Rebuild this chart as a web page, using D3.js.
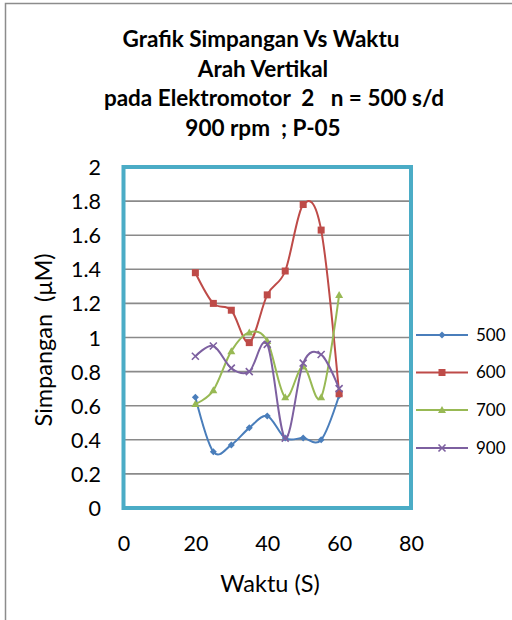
<!DOCTYPE html>
<html><head><meta charset="utf-8">
<script src="https://cdn.jsdelivr.net/npm/d3@7"></script>
<style>
html,body{margin:0;padding:0;background:#fff;}
svg{display:block;font-family:Lato,"Open Sans",sans-serif;}
text{white-space:pre;}
</style></head>
<body>
<svg id="c" width="512" height="620"></svg>
<script>
const xValues = [20, 25, 30, 35, 40, 45, 50, 55, 60];
const seriesNames = ["500", "600", "700", "900"];
const s500 = [0.65, 0.33, 0.37, 0.47, 0.54, 0.41, 0.41, 0.40, 0.66];
const s600 = [1.38, 1.20, 1.16, 0.97, 1.25, 1.39, 1.78, 1.63, 0.67];
const s700 = [0.61, 0.69, 0.92, 1.03, 0.98, 0.65, 0.83, 0.65, 1.25];
const s900 = [0.89, 0.95, 0.82, 0.80, 0.96, 0.41, 0.85, 0.90, 0.70];
const xTicks = [0, 20, 40, 60, 80];
const yTicks = [0, 0.2, 0.4, 0.6, 0.8, 1, 1.2, 1.4, 1.6, 1.8, 2];
const titleLines = ["Grafik Simpangan Vs Waktu", "Arah Vertikal", "pada Elektromotor  2   n = 500 s/d", "900 rpm  ; P-05"];
const xTitle = "Waktu (S)";
const yTitle = "Simpangan  (\u03BCM)";

const colors = ["#4A7EBB", "#BE4B48", "#98B954", "#7D60A0"];
const markers = ["diamond", "square", "triangle", "x"];
const seriesData = [s500, s600, s700, s900];

const svg = d3.select("#c");
const x = d3.scaleLinear().domain([0, 80]).range([123.5, 411]);
const y = d3.scaleLinear().domain([0, 2]).range([508, 167]);

// outer chart border
svg.append("rect").attr("x", 5.5).attr("y", 3.5).attr("width", 600).attr("height", 700)
  .attr("fill", "none").attr("stroke", "#8c8c8c").attr("stroke-width", 1.5);

// title
const titleCenters = [261, 263, 274, 263];
const title = svg.append("text").attr("text-anchor", "middle").attr("font-weight", "bold")
  .attr("font-size", 22.5).attr("fill", "#000");
titleLines.forEach((t, i) => {
  title.append("tspan").attr("x", titleCenters[i]).attr("y", 47 + i * 29.7).text(t);
});

// gridlines
svg.append("g").selectAll("line").data(yTicks.filter(v => v > 0 && v < 2)).join("line")
  .attr("x1", x(0)).attr("x2", x(80)).attr("y1", d => y(d)).attr("y2", d => y(d))
  .attr("stroke", "#8a8a8a").attr("stroke-width", 1.6);

// axes (labels only)
const yAxis = d3.axisLeft(y).tickValues(yTicks).tickSize(0).tickPadding(0)
  .tickFormat(d => String(+d.toFixed(1)));
const gy = svg.append("g").attr("transform", "translate(101,0)").call(yAxis);
gy.select(".domain").remove();
gy.selectAll("text").attr("font-size", 21.5).attr("font-family", "Lato").attr("fill", "#000").attr("dy", "0.35em");

const xAxis = d3.axisBottom(x).tickValues(xTicks).tickSize(0).tickPadding(0);
const gx = svg.append("g").attr("transform", "translate(0,535)").call(xAxis);
gx.select(".domain").remove();
gx.selectAll("text").attr("font-size", 21.5).attr("font-family", "Lato").attr("fill", "#000").attr("dy", "0.75em");

// axis titles
svg.append("text").attr("x", 270).attr("y", 592).attr("text-anchor", "middle")
  .attr("font-size", 23.5).attr("fill", "#000").text(xTitle);
svg.append("text").attr("transform", "translate(52,340) rotate(-90)").attr("text-anchor", "middle")
  .attr("font-size", 23.5).attr("fill", "#000").text(yTitle);

// series
const line = d3.line().x((d, i) => x(xValues[i])).y(d => y(d)).curve(d3.curveCatmullRom.alpha(0));
const plot = svg.append("g");

function drawMarker(g, type, cx, cy, color) {
  if (type === "diamond") {
    g.append("path").attr("d", `M${cx},${cy-3.5}L${cx+3.5},${cy}L${cx},${cy+3.5}L${cx-3.5},${cy}Z`).attr("fill", color);
  } else if (type === "square") {
    g.append("rect").attr("x", cx - 3.5).attr("y", cy - 3.5).attr("width", 7).attr("height", 7).attr("fill", color);
  } else if (type === "triangle") {
    g.append("path").attr("d", `M${cx},${cy-4}L${cx+4},${cy+3}L${cx-4},${cy+3}Z`).attr("fill", color);
  } else {
    g.append("path").attr("d", `M${cx-3.5},${cy-3.5}L${cx+3.5},${cy+3.5}M${cx+3.5},${cy-3.5}L${cx-3.5},${cy+3.5}`)
      .attr("stroke", color).attr("stroke-width", 1.6);
  }
}

seriesData.forEach((vals, si) => {
  const g = plot.append("g");
  g.append("path").attr("d", line(vals)).attr("fill", "none").attr("stroke", colors[si]).attr("stroke-width", 2);
  vals.forEach((v, i) => drawMarker(g, markers[si], x(xValues[i]), y(v), colors[si]));
});

// plot frame
svg.append("rect").attr("x", x(0)).attr("y", y(2)).attr("width", x(80) - x(0)).attr("height", y(0) - y(2))
  .attr("fill", "none").attr("stroke", "#4BACC6").attr("stroke-width", 4);

// legend
const legendY = [335, 372.5, 410, 448];
const lg = svg.append("g");
seriesNames.forEach((n, i) => {
  lg.append("line").attr("x1", 416).attr("x2", 468).attr("y1", legendY[i]).attr("y2", legendY[i])
    .attr("stroke", colors[i]).attr("stroke-width", 2);
  drawMarker(lg, markers[i], 442, legendY[i], colors[i]);
  lg.append("text").attr("x", 476).attr("y", legendY[i]).attr("dy", "0.35em")
    .attr("font-size", 17).attr("fill", "#000").text(n);
});
</script>
</body></html>
